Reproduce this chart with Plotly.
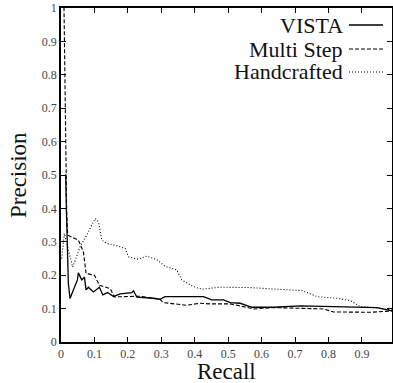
import plotly.graph_objects as go

vista_recall = [0.012, 0.014, 0.016, 0.022, 0.027, 0.049, 0.052, 0.062, 0.07, 0.075, 0.082, 0.097, 0.115,
                0.125, 0.139, 0.157, 0.177, 0.212, 0.217, 0.227, 0.276, 0.296, 0.311, 0.356, 0.386, 0.426,
                0.451, 0.486, 0.506, 0.536, 0.571, 0.636, 0.716, 0.805, 0.885, 0.945, 0.99]
vista_precision = [0.5, 0.5, 0.4, 0.175, 0.13, 0.186, 0.207, 0.186, 0.194, 0.156, 0.164, 0.15, 0.164,
                   0.141, 0.148, 0.136, 0.144, 0.148, 0.153, 0.134, 0.131, 0.128, 0.136, 0.136, 0.138, 0.136,
                   0.126, 0.126, 0.118, 0.116, 0.104, 0.104, 0.108, 0.106, 0.106, 0.103, 0.093]

multi_recall = [0.007, 0.009, 0.017, 0.02, 0.052, 0.067, 0.075, 0.1, 0.115, 0.147, 0.16, 0.216, 0.235,
                0.296, 0.306, 0.376, 0.416, 0.446, 0.506, 0.536, 0.576, 0.636, 0.716, 0.785, 0.815, 0.885,
                0.925, 0.99]
multi_precision = [1.0, 1.0, 0.39, 0.32, 0.305, 0.27, 0.205, 0.2, 0.17, 0.16, 0.135, 0.135, 0.137,
                   0.128, 0.118, 0.11, 0.116, 0.114, 0.114, 0.108, 0.099, 0.103, 0.1, 0.099, 0.09, 0.088,
                   0.089, 0.093]

hand_recall = [0.002, 0.01, 0.035, 0.057, 0.077, 0.102, 0.112, 0.122, 0.137, 0.172, 0.192, 0.202, 0.231,
               0.256, 0.286, 0.311, 0.346, 0.361, 0.396, 0.421, 0.476, 0.566, 0.646, 0.721, 0.766, 0.825,
               0.865, 0.895, 0.935, 0.99]
hand_precision = [0.25, 0.325, 0.224, 0.285, 0.32, 0.37, 0.36, 0.305, 0.295, 0.287, 0.28, 0.255, 0.248,
                  0.257, 0.247, 0.227, 0.216, 0.186, 0.166, 0.158, 0.164, 0.163, 0.158, 0.154, 0.136, 0.131,
                  0.124, 0.106, 0.103, 0.096]

series_names = ["VISTA", "Multi Step", "Handcrafted"]
x_ticks = [0, 0.1, 0.2, 0.3, 0.4, 0.5, 0.6, 0.7, 0.8, 0.9]
y_ticks = [0, 0.1, 0.2, 0.3, 0.4, 0.5, 0.6, 0.7, 0.8, 0.9, 1]

dashes = ["solid", "4px,2px", "1px,2px"]
widths = [1.3, 1.1, 1.1]
serif = "Liberation Serif"

fig = go.Figure()
for name, xs, ys, d, w in zip(series_names,
                              [vista_recall, multi_recall, hand_recall],
                              [vista_precision, multi_precision, hand_precision],
                              dashes, widths):
    fig.add_trace(go.Scatter(x=xs, y=ys, mode="lines", name=name,
                             line=dict(color="black", width=w, dash=d), showlegend=False))

plot_l, plot_r, plot_t, plot_b = 61, 392, 8, 342
def px2paper_x(px):
    return (px - plot_l) / (plot_r - plot_l)
def px2paper_y(py):
    return (plot_b - py) / (plot_b - plot_t)

# manual legend: text on the left, sample line on the right
leg_y = [25, 49, 72]
for name, d, w, yy in zip(series_names, dashes, widths, leg_y):
    fig.add_annotation(x=px2paper_x(345), y=px2paper_y(yy), xref="paper", yref="paper", text=name,
                       showarrow=False, font=dict(family=serif, size=22, color="#111"),
                       xanchor="right", yanchor="middle")
    fig.add_shape(type="line", xref="paper", yref="paper",
                  x0=px2paper_x(349), x1=px2paper_x(383), y0=px2paper_y(yy), y1=px2paper_y(yy),
                  line=dict(color="black", width=w, dash=d))

fig.add_annotation(x=0.5, y=px2paper_y(371), xref="paper", yref="paper", text="Recall", showarrow=False,
                   font=dict(family=serif, size=23, color="#111"), xanchor="center", yanchor="middle")
fig.add_annotation(x=px2paper_x(18), y=0.5, xref="paper", yref="paper", text="Precision", showarrow=False,
                   textangle=-90, font=dict(family=serif, size=23, color="#111"),
                   xanchor="center", yanchor="middle")

axis_common = dict(showline=True, linecolor="black", linewidth=1.8, mirror="ticks", ticks="inside",
                   ticklen=5, tickwidth=1.2, tickcolor="black", showgrid=False, zeroline=False,
                   tickfont=dict(family=serif, size=12, color="#444"))
fig.update_xaxes(range=[0, 0.99], tickvals=x_ticks, ticktext=[str(v) for v in x_ticks], **axis_common)
fig.update_yaxes(range=[0, 1], tickvals=y_ticks, ticktext=[str(v) for v in y_ticks], **axis_common)

fig.update_layout(width=393, height=383, margin=dict(l=61, r=1, t=8, b=41, autoexpand=False),
                  plot_bgcolor="white", paper_bgcolor="white", showlegend=False)
fig.write_html("out.html", config={"displayModeBar": False},
               post_script="document.body.style.margin='0';document.body.style.padding='0';")
